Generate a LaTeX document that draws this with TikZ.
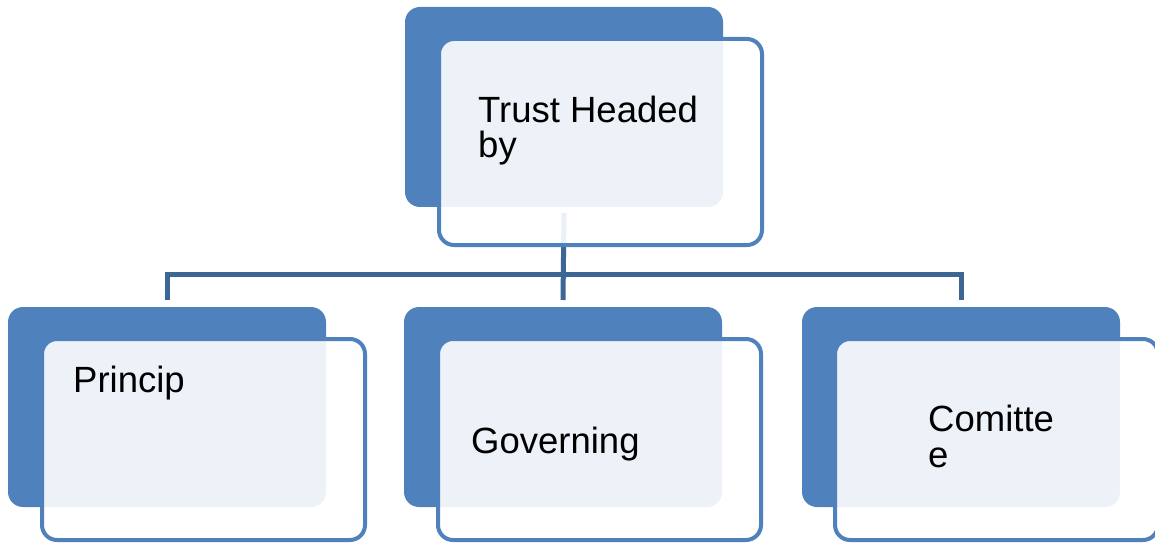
\documentclass[tikz,border=0pt]{standalone}
\usepackage{fontspec}
\setmainfont{Liberation Sans}
\definecolor{boxblue}{RGB}{79,129,189}
\definecolor{linkblue}{RGB}{60,103,149}
\tikzset{
  backbox/.style={fill=boxblue, rounded corners=15pt, minimum width=318pt, minimum height=200pt, anchor=north west, inner sep=0pt, outer sep=0pt},
  frontbox/.style={draw=boxblue, line width=4pt, fill=white, fill opacity=0.9, rounded corners=15pt, minimum width=323pt, minimum height=206pt, anchor=north west, inner sep=0pt, outer sep=0pt},
  boxtext/.style={anchor=base west, inner sep=0pt, align=left, font=\fontsize{36.5}{35.5}\selectfont},
  link/.style={draw=linkblue, line width=5pt}
}
\begin{document}
\begin{tikzpicture}[x=1pt,y=-1pt]
  \useasboundingbox (0,0) rectangle (1155,545);
  % back boxes
  \node[backbox] (trustback) at (405,7) {};
  \node[backbox] (princback) at (8,307) {};
  \node[backbox] (govback) at (404,307) {};
  \node[backbox] (comback) at (802,307) {};
  % connectors
  \coordinate (hub) at (564,274);
  \draw[link] ([yshift=-6pt]trustback.south) -- ([yshift=7pt]govback.north);
  \draw[link] ([yshift=7pt]princback.north) -- ++(0,-26) -| ([yshift=7pt]comback.north);
  % front boxes
  \node[frontbox] (trust) at (439,39) {};
  \node[frontbox, minimum height=201pt] (princ) at (42,339) {};
  \node[frontbox, minimum height=201pt] (gov) at (438,339) {};
  \node[frontbox, minimum height=201pt] (com) at (835,339) {};
  % texts (base = last line)
  \node[boxtext] (trusttext) at (478,158) {Trust Headed\\by};
  \node[boxtext] (princtext) at (73,392) {Princip};
  \node[boxtext] (govtext) at (471,453) {Governing};
  \node[boxtext] (comtext) at (928,467) {Comitte\\e};
\end{tikzpicture}
\end{document}
